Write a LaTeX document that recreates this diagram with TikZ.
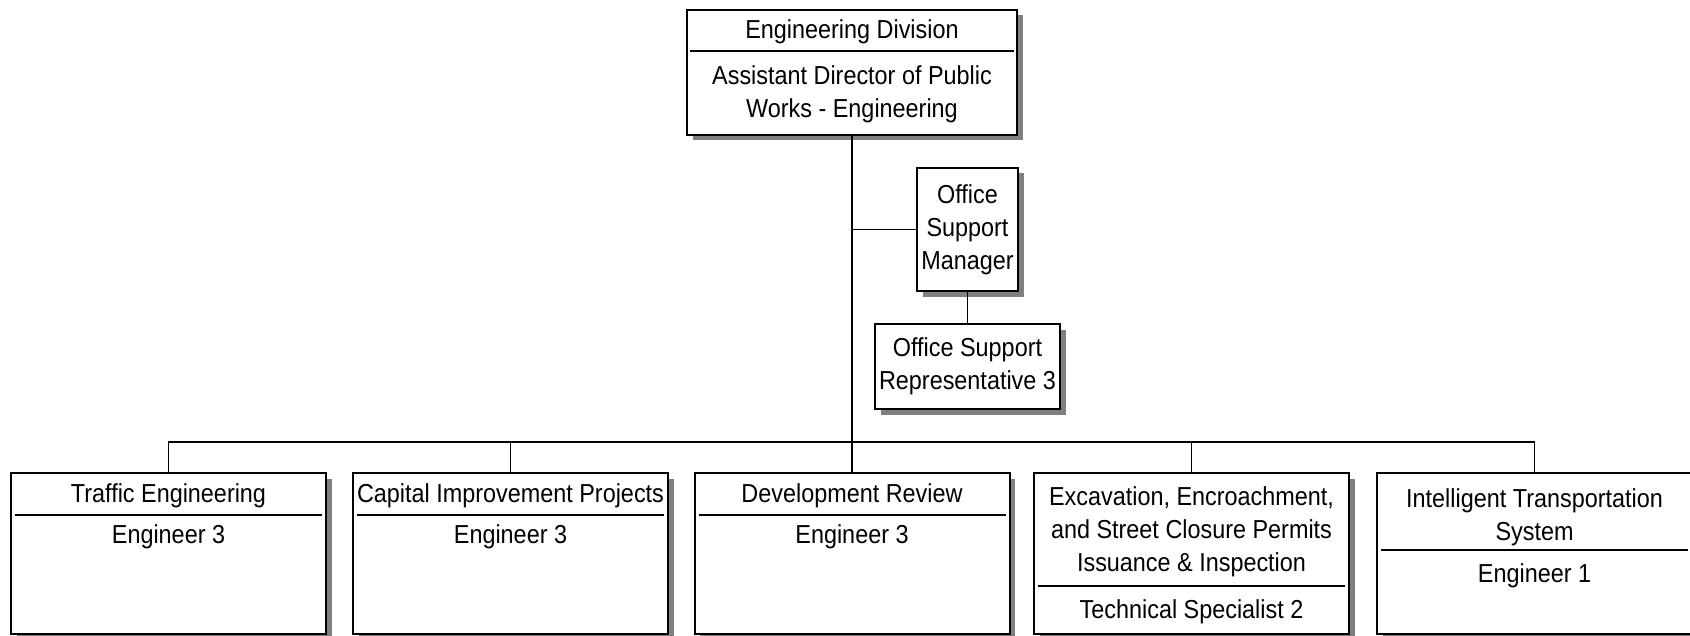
\documentclass[tikz,border=0pt]{standalone}
\usepackage{fontspec}
\setmainfont{Liberation Sans}[FakeStretch=0.9]
\usetikzlibrary{shadows,calc}
\definecolor{shadowgray}{RGB}{128,128,128}
\newcommand{\orgfont}{\fontsize{13}{16.5}\selectfont}
\tikzset{
  unit/.style={draw, line width=1pt, fill=white, inner sep=0pt, outer sep=0pt, anchor=north west,
    drop shadow={shadow xshift=2.75pt, shadow yshift=-2.75pt, fill=shadowgray, opacity=1}},
  lower/.style={unit, minimum width=157.5pt, minimum height=80.5pt},
  orgtext/.style={font=\orgfont, align=center, inner sep=0pt},
  rule/.style={line width=0.85pt},
  link/.style={line width=0.7pt},
}
\begin{document}
\begin{tikzpicture}[x=0.5pt, y=-0.5pt]
\useasboundingbox (0,0) rectangle (1690,636);
\node[unit, minimum width=165pt, minimum height=62.5pt] (div) at (687,10) {};
\node[unit, minimum width=50.5pt, minimum height=61.5pt] (osm) at (917,168) {};
\node[unit, minimum width=92.5pt, minimum height=42.5pt] (osr) at (875,324) {};
\node[lower] (traffic) at (11,473) {};
\node[lower] (cip) at (353,473) {};
\node[lower] (dev) at (694.5,473) {};
\node[lower] (exc) at (1034,473) {};
\node[lower] (its) at (1377,473) {};

\coordinate (bus) at (0,442);
\draw[link] (div.south) -- (dev.north);
\draw[link] (div.south |- osm.west) -- (osm.west);
\draw[link] (osm.south) -- (osr.north);
\draw[link] (traffic.north) -- (traffic.north |- bus) -- (its.north |- bus) -- (its.north);
\foreach \n in {cip,exc} \draw[link] (\n.north) -- (\n.north |- bus);

\draw[rule] ($(div.north west)+(3,41)$) -- ($(div.north east)+(-3,41)$);
\foreach \n/\d in {traffic/42, cip/42, dev/42, exc/113, its/77}
  \draw[rule] ($(\n.north west)+(4,\d)$) -- ($(\n.north east)+(-4,\d)$);

\node[orgtext] (divtitle) at (852,32) {Engineering Division};
\node[orgtext] (divhead) at (852,94) {Assistant Director of Public\\Works - Engineering};
\node[orgtext] (osmtext) at (osm) {Office\\Support\\Manager};
\node[orgtext] (osrtext) at (osr) {Office Support\\Representative 3};
\node[orgtext] (traffictitle) at ($(traffic.north)+(0,23)$) {Traffic Engineering};
\node[orgtext] (traffichead) at ($(traffic.north)+(0,64)$) {Engineer 3};
\node[orgtext] (ciptitle) at ($(cip.north)+(0,23)$) {Capital Improvement Projects};
\node[orgtext] (ciphead) at ($(cip.north)+(0,64)$) {Engineer 3};
\node[orgtext] (devtitle) at ($(dev.north)+(0,23)$) {Development Review};
\node[orgtext] (devhead) at ($(dev.north)+(0,64)$) {Engineer 3};
\node[orgtext] (exctitle) at ($(exc.north)+(0,59)$) {Excavation, Encroachment,\\and Street Closure Permits\\Issuance \& Inspection};
\node[orgtext] (exchead) at ($(exc.north)+(0,139)$) {Technical Specialist 2};
\node[orgtext] (itstitle) at ($(its.north)+(0,44)$) {Intelligent Transportation\\System};
\node[orgtext] (itshead) at ($(its.north)+(0,103)$) {Engineer 1};
\end{tikzpicture}
\end{document}
